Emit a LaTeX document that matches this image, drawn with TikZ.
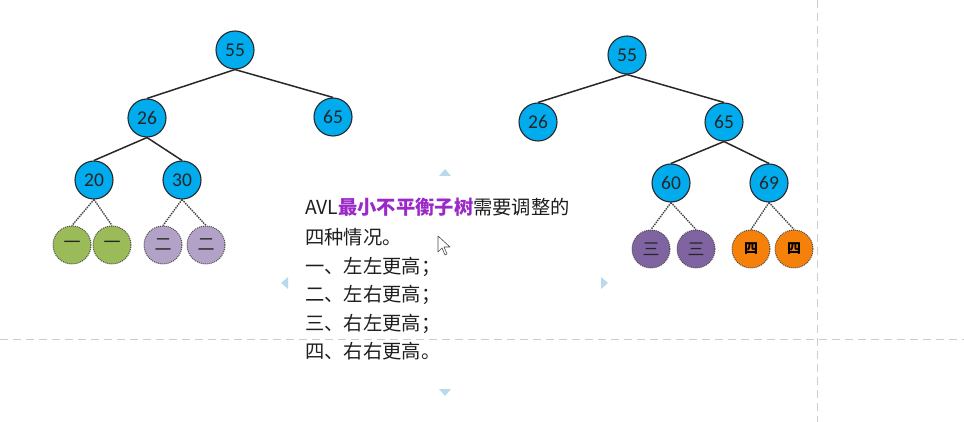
\documentclass[tikz,border=0pt]{standalone}
\usepackage{fontspec}
\setmainfont{Carlito}
\newfontfamily\cjk{Noto Sans CJK SC}
\definecolor{nodeblue}{RGB}{0,172,238}
\definecolor{edgegray}{RGB}{40,40,40}
\definecolor{leafgreen}{RGB}{155,187,89}
\definecolor{leaflilac}{RGB}{179,162,199}
\definecolor{leafpurple}{RGB}{128,100,162}
\definecolor{leaforange}{RGB}{245,128,10}
\definecolor{hlpurple}{RGB}{155,40,200}
\definecolor{guide}{RGB}{205,205,205}
\definecolor{handle}{RGB}{185,218,236}
\definecolor{txt}{RGB}{30,30,30}
\tikzset{
  tnode/.style={circle,draw=edgegray,line width=1.1pt,fill=nodeblue,minimum size=38pt,inner sep=0pt,font=\fontsize{19.5pt}{19.5pt}\selectfont,text=black!85},
  leaf/.style={circle,draw=black!70,densely dotted,line width=1pt,minimum size=38pt,inner sep=0pt,font=\cjk\fontsize{17pt}{17pt}\selectfont,text=black!85},
  tedge/.style={draw=edgegray,line width=1.5pt},
  dedge/.style={draw=black!75,densely dotted,line width=1.4pt},
  line/.style={anchor=base west,inner sep=0pt,font=\cjk\fontsize{19.3pt}{19.3pt}\selectfont,text=txt},
  guideline/.style={draw=guide,dashed,line width=1pt,dash pattern=on 8pt off 5pt},
  tri/.style={fill=handle,draw=none}
}
\begin{document}
\begin{tikzpicture}[x=1pt,y=-1pt]
\useasboundingbox (0,0) rectangle (964,422);
% guide lines
\draw[guideline] (0,339) -- (964,339);
\draw[guideline] (817,0) -- (817,422);
% handles
\fill[tri] (439,176) -- (451,176) -- (445,169) -- cycle;
\fill[tri] (439,389) -- (451,389) -- (445,396) -- cycle;
\fill[tri] (288,277) -- (288,289) -- (281,283) -- cycle;
\fill[tri] (601,277) -- (601,289) -- (608,283) -- cycle;

% left tree
\node[tnode] (a55) at (235,50) {55};
\node[tnode] (a26) at (147,118) {26};
\node[tnode] (a65) at (333,117) {65};
\node[tnode] (a20) at (94,180) {20};
\node[tnode] (a30) at (182,180) {30};
\node[leaf,fill=leafgreen] (l1) at (72,245) {一};
\node[leaf,fill=leafgreen] (l2) at (112,245) {一};
\node[leaf,fill=leaflilac] (l3) at (163,245) {二};
\node[leaf,fill=leaflilac] (l4) at (206,245) {二};
\draw[tedge] (a55.south) -- (a26.north);
\draw[tedge] (a55.south) -- (a65.north);
\draw[tedge] (a26.south) -- (a20.north);
\draw[tedge] (a26.south) -- (a30.north);
\draw[dedge] (a20.south) -- (l1.north);
\draw[dedge] (a20.south) -- (l2.north);
\draw[dedge] (a30.south) -- (l3.north);
\draw[dedge] (a30.south) -- (l4.north);

% right tree
\node[tnode] (b55) at (627,55) {55};
\node[tnode] (b26) at (538,122) {26};
\node[tnode] (b65) at (724,122) {65};
\node[tnode] (b60) at (671,183) {60};
\node[tnode] (b69) at (769,183) {69};
\node[leaf,fill=leafpurple] (r1) at (651,249) {三};
\node[leaf,fill=leafpurple] (r2) at (696,249) {三};
\node[leaf,fill=leaforange,font=\cjk\bfseries\fontsize{14pt}{14pt}\selectfont,text=black] (r3) at (751,249) {四};
\node[leaf,fill=leaforange,font=\cjk\bfseries\fontsize{14pt}{14pt}\selectfont,text=black] (r4) at (794,249) {四};
\draw[tedge] (b55.south) -- (b26.north);
\draw[tedge] (b55.south) -- (b65.north);
\draw[tedge] (b65.south) -- (b60.north);
\draw[tedge] (b65.south) -- (b69.north);
\draw[dedge] (b60.south) -- (r1.north);
\draw[dedge] (b60.south) -- (r2.north);
\draw[dedge] (b69.south) -- (r3.north);
\draw[dedge] (b69.south) -- (r4.north);

% text
\node[line] (t1) at (305,215) {AVL{\color{hlpurple}\bfseries 最小不平衡子树}需要调整的};
\node[line] (t2) at (305,244) {四种情况。};
\node[line] (t3) at (305,273) {一、左左更高；};
\node[line] (t4) at (305,301) {二、左右更高；};
\node[line] (t5) at (305,330) {三、右左更高；};
\node[line] (t6) at (305,358) {四、右右更高。};

% cursor
\draw[black!70,fill=white,line width=0.6pt,line join=round]
  (438,236) -- (438,252) -- (442,248) -- (445,255) -- (447,254) -- (444,247) -- (450,247) -- cycle;
\end{tikzpicture}
\end{document}
